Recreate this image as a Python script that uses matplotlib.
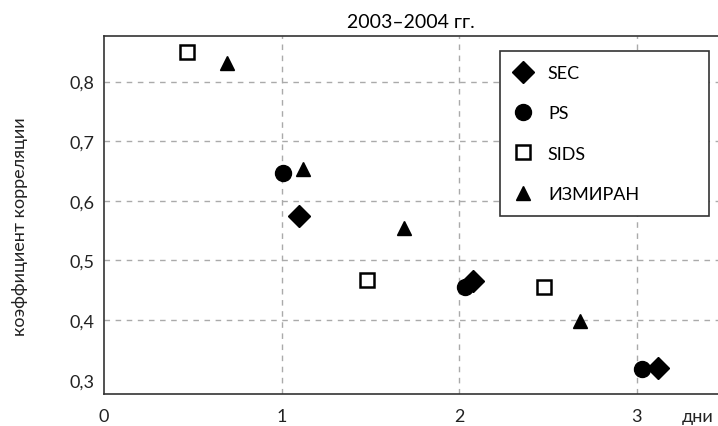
import matplotlib.pyplot as plt

# данные
sec_x = [1.10, 2.08, 3.12]
sec_y = [0.575, 0.466, 0.320]

ps_x = [1.01, 2.03, 3.03]
ps_y = [0.646, 0.456, 0.318]

sids_x = [0.47, 1.48, 2.48]
sids_y = [0.850, 0.468, 0.455]

izmiran_x = [0.69, 1.12, 1.69, 2.68]
izmiran_y = [0.831, 0.654, 0.555, 0.399]

x_ticks = [0, 1, 2, 3]
x_labels = ["0", "1", "2", "3"]
y_ticks = [0.3, 0.4, 0.5, 0.6, 0.7, 0.8]
y_labels = ["0,3", "0,4", "0,5", "0,6", "0,7", "0,8"]

plt.rcParams["font.family"] = ["Lato", "DejaVu Sans"]
plt.rcParams["font.size"] = 13

fig = plt.figure(figsize=(7.18, 4.27), dpi=100)
ax = fig.add_axes([104 / 718, 32 / 427, 614 / 718, 357.7 / 427])

ax.plot(sec_x, sec_y, "D", color="black", markersize=11.5, linestyle="none", label="SEC")
ax.plot(ps_x, ps_y, "o", color="black", markersize=11.5, linestyle="none", label="PS")
ax.plot(sids_x, sids_y, "s", markerfacecolor="white", markeredgecolor="black",
        markeredgewidth=1.8, markersize=10, linestyle="none", label="SIDS")
ax.plot(izmiran_x, izmiran_y, "^", color="black", markersize=10, linestyle="none", label="ИЗМИРАН")

ax.set_xlim(0, 3.457)
ax.set_ylim(0.276, 0.876)
ax.set_xticks(x_ticks)
ax.set_xticklabels(x_labels)
ax.set_yticks(y_ticks)
ax.set_yticklabels(y_labels)
ax.tick_params(length=0, colors="#222222")
ax.tick_params(axis="y", pad=7)
ax.tick_params(axis="x", pad=10)

ax.grid(True, color="#aaaaaa", linestyle=(0, (4, 4)), linewidth=1)
ax.yaxis.get_gridlines()[0].set_visible(False)
ax.xaxis.get_gridlines()[0].set_visible(False)
ax.set_axisbelow(True)

ax.spines["right"].set_visible(False)
for s in ["left", "bottom", "top"]:
    ax.spines[s].set_color("#333333")
    ax.spines[s].set_linewidth(1.2)

ax.set_title("2003–2004 гг.", fontsize=14, pad=7)

leg = ax.legend(loc="upper left", bbox_to_anchor=(0.645, 0.958 - 0.449, 0.340, 0.449),
                mode="expand", frameon=True, fancybox=False, edgecolor="#333333",
                framealpha=1, labelspacing=1.35, handlelength=1.0, handletextpad=0.9,
                borderpad=0.75, borderaxespad=0, fontsize=13)
leg.get_frame().set_linewidth(1.2)

fig.text(20 / 718, 1 - 227 / 427, "коэффициент корреляции", rotation=90,
         ha="center", va="center", fontsize=13, color="#222222")
fig.text(698 / 718, 1 - 422 / 427, "дни", ha="center", va="baseline",
         fontsize=13, color="#222222")

fig.savefig("out.png", dpi=100)
